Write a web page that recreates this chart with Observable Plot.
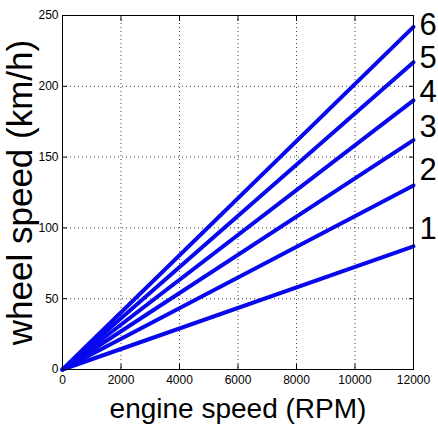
<!DOCTYPE html>
<html><head><meta charset="utf-8">
<script src="https://cdn.jsdelivr.net/npm/d3@7"></script>
<script src="https://cdn.jsdelivr.net/npm/@observablehq/plot@0.6"></script>
<style>body{margin:0;background:#fff}</style>
</head><body><div id="chart"></div>
<script>
const gears = ["1", "2", "3", "4", "5", "6"];
const rpmRange = [0, 12000];
const speedAtMinRpm = [0, 0, 0, 0, 0, 0];
const speedAtMaxRpm = [87, 130, 162, 190, 217, 242];
const labelSpeed = [99, 141, 171, 196, 220, 243];
const xTicks = [0, 2000, 4000, 6000, 8000, 10000, 12000];
const yTicks = [0, 50, 100, 150, 200, 250];
const xLabel = "engine speed (RPM)";
const yLabel = "wheel speed (km/h)";

const lines = gears.flatMap((g, i) => [
  {gear: g, rpm: rpmRange[0], speed: speedAtMinRpm[i]},
  {gear: g, rpm: rpmRange[1], speed: speedAtMaxRpm[i]}
]);
const labels = gears.map((g, i) => ({gear: g, rpm: rpmRange[1], speed: labelSpeed[i]}));

const tickFont = "'Liberation Sans Narrow', 'Liberation Sans', Arial, sans-serif";
const blank = () => "";
const plain = d => String(d);

const plot = Plot.plot({
  width: 438, height: 431,
  marginLeft: 62, marginRight: 25, marginTop: 15, marginBottom: 62,
  style: {fontFamily: "'Liberation Sans', Arial, sans-serif", background: "#fff", color: "#000"},
  x: {domain: rpmRange, ticks: xTicks},
  y: {domain: [0, 250], ticks: yTicks},
  marks: [
    Plot.gridX(xTicks, {stroke: "#000", strokeOpacity: 0.75, strokeDasharray: "1,3"}),
    Plot.gridY(yTicks, {stroke: "#000", strokeOpacity: 0.75, strokeDasharray: "1,3"}),
    Plot.line(lines, {x: "rpm", y: "speed", z: "gear", stroke: "#0808ee", strokeWidth: 4}),
    Plot.frame({stroke: "#000", strokeWidth: 1}),
    Plot.axisX(xTicks, {anchor: "bottom", tickSize: -5, tickFormat: blank, label: null}),
    Plot.axisX(xTicks, {anchor: "top", tickSize: -5, tickFormat: blank, label: null}),
    Plot.axisY(yTicks, {anchor: "left", tickSize: -5, tickFormat: blank, label: null}),
    Plot.axisY(yTicks, {anchor: "right", tickSize: -5, tickFormat: blank, label: null}),
    Plot.axisX(xTicks, {anchor: "bottom", tickSize: 0, tickPadding: 6, fontSize: 12, fontFamily: tickFont, tickFormat: plain, label: null}),
    Plot.axisY(yTicks, {anchor: "left", tickSize: 0, tickPadding: 4, fontSize: 12, fontFamily: tickFont, tickFormat: plain, label: null}),
    Plot.text(labels, {x: "rpm", y: "speed", text: "gear", textAnchor: "start", dx: 6, fontSize: 31}),
    Plot.text([xLabel], {text: d => d, frameAnchor: "bottom", dy: 48, fontSize: 28}),
    Plot.text([yLabel], {text: d => d, frameAnchor: "left", textAnchor: "middle", lineAnchor: "middle", rotate: -90, dx: -42, fontSize: 35})
  ]
});
document.getElementById("chart").appendChild(plot);
</script>
</body></html>
